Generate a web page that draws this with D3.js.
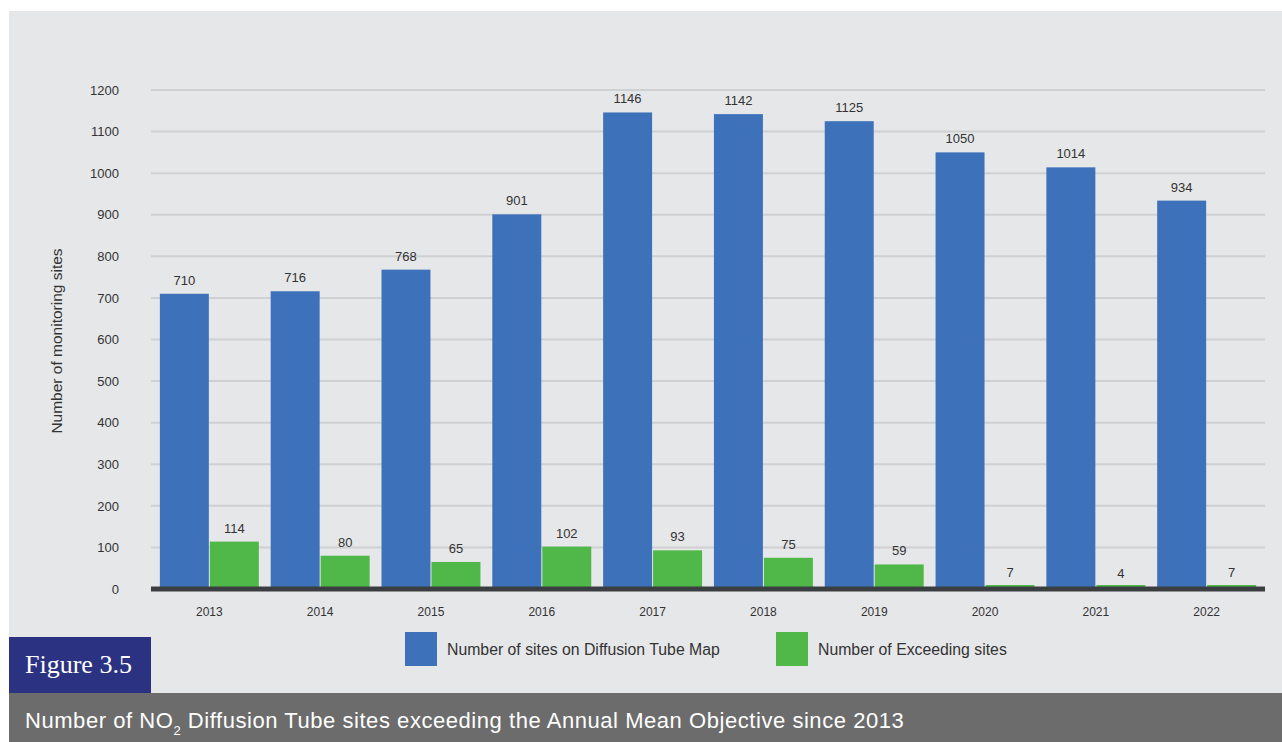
<!DOCTYPE html>
<html>
<head>
<meta charset="utf-8">
<script src="https://cdn.jsdelivr.net/npm/d3@7"></script>
<style>
  html, body { margin: 0; padding: 0; background: #ffffff; }
  svg { display: block; font-family: "Liberation Sans", Arial, sans-serif; }
</style>
</head>
<body>
<svg id="chart" width="1282" height="742"></svg>
<script>
// Data
const years = ["2013", "2014", "2015", "2016", "2017", "2018", "2019", "2020", "2021", "2022"];
const sitesOnMap = [710, 716, 768, 901, 1146, 1142, 1125, 1050, 1014, 934];
const exceedingSites = [114, 80, 65, 102, 93, 75, 59, 7, 4, 7];
const yTicks = [0, 100, 200, 300, 400, 500, 600, 700, 800, 900, 1000, 1100, 1200];
const seriesNames = ["Number of sites on Diffusion Tube Map", "Number of Exceeding sites"];
const seriesColors = ["#3d72bb", "#50b848"];

const svg = d3.select("#chart");
const W = 1282, H = 742;
const SANS = "'Liberation Sans', Arial, sans-serif";

// Panel background
svg.append("rect").attr("x", 9).attr("y", 11).attr("width", W - 9).attr("height", H - 11)
  .attr("fill", "#e6e7e9");

const plot = { left: 151, right: 1265, top: 90, bottom: 589 };

const x0 = d3.scaleBand().domain(years).range([plot.left, plot.right])
  .paddingInner(0.107).paddingOuter(0.08);
const x1 = d3.scaleBand().domain([0, 1]).range([0, x0.bandwidth()]).paddingInner(0.02);
const y = d3.scaleLinear().domain([0, 1200]).range([plot.bottom, plot.top]);

// Gridlines
svg.append("g").selectAll("line").data(yTicks.filter(d => d > 0)).join("line")
  .attr("x1", plot.left).attr("x2", plot.right)
  .attr("y1", d => y(d)).attr("y2", d => y(d))
  .attr("stroke", "#cfd0d2").attr("stroke-width", 2);

// Y axis labels
const yAxis = d3.axisLeft(y).tickValues(yTicks).tickFormat(d3.format("d")).tickSize(0).tickPadding(0);
const ya = svg.append("g").attr("transform", `translate(119,0)`).call(yAxis);
ya.select(".domain").remove();
ya.selectAll("text").style("font-size", "13px").attr("fill", "#333").style("font-family", SANS);

// Y title
svg.append("text").attr("transform", "translate(62,341) rotate(-90)")
  .attr("text-anchor", "middle").style("font-size", "15.5px").attr("fill", "#333")
  .text("Number of monitoring sites");

// Bars
const series = [sitesOnMap, exceedingSites];
const baseY = plot.bottom - 2;
const groups = svg.append("g").selectAll("g").data(years).join("g")
  .attr("transform", d => `translate(${x0(d)},0)`);

groups.each(function (yr, i) {
  const g = d3.select(this);
  series.forEach((vals, s) => {
    const v = vals[i];
    const top = Math.min(y(v), baseY - 2);
    g.append("rect")
      .attr("x", x1(s)).attr("width", x1.bandwidth())
      .attr("y", top).attr("height", baseY - top)
      .attr("fill", seriesColors[s]);
    g.append("text")
      .attr("x", x1(s) + x1.bandwidth() / 2)
      .attr("y", y(v) - 9)
      .attr("text-anchor", "middle").style("font-size", "13px").attr("fill", "#333")
      .text(v);
  });
});

// Baseline
svg.append("line").attr("x1", plot.left).attr("x2", plot.right)
  .attr("y1", plot.bottom).attr("y2", plot.bottom)
  .attr("stroke", "#3b3e41").attr("stroke-width", 5);

// X axis labels
const xAxis = d3.axisBottom(x0).tickSize(0).tickPadding(0);
const xa = svg.append("g").attr("transform", `translate(0,616)`).call(xAxis);
xa.select(".domain").remove();
xa.selectAll("text").style("font-size", "12px").attr("fill", "#333").attr("dy", 0)
  .style("font-family", SANS);

// Legend
const legendItems = [
  { x: 405, label: seriesNames[0], color: seriesColors[0] },
  { x: 776, label: seriesNames[1], color: seriesColors[1] }
];
const lg = svg.append("g").selectAll("g").data(legendItems).join("g")
  .attr("transform", d => `translate(${d.x},632)`);
lg.append("rect").attr("width", 32).attr("height", 34).attr("fill", d => d.color);
lg.append("text").attr("x", 42).attr("y", 23).style("font-size", "15.8px").attr("fill", "#333")
  .text(d => d.label);

// Figure tag
svg.append("rect").attr("x", 9).attr("y", 637).attr("width", 142).attr("height", 56)
  .attr("fill", "#2b3282");
svg.append("text").attr("x", 25).attr("y", 673)
  .style("font-family", "'Liberation Serif', 'DejaVu Serif', serif")
  .style("font-size", "26px").attr("fill", "#ffffff").text("Figure 3.5");

// Caption bar
svg.append("rect").attr("x", 9).attr("y", 693).attr("width", W - 9).attr("height", H - 693)
  .attr("fill", "#6c6c6c");
const cap = svg.append("text").attr("x", 25).attr("y", 728)
  .style("font-size", "22px").style("letter-spacing", "0.55px").attr("fill", "#ffffff");
cap.append("tspan").text("Number of NO");
cap.append("tspan").style("font-size", "13px").attr("dy", 7).text("2");
cap.append("tspan").attr("dy", -7).text(" Diffusion Tube sites exceeding the Annual Mean Objective since 2013");
</script>
</body>
</html>
